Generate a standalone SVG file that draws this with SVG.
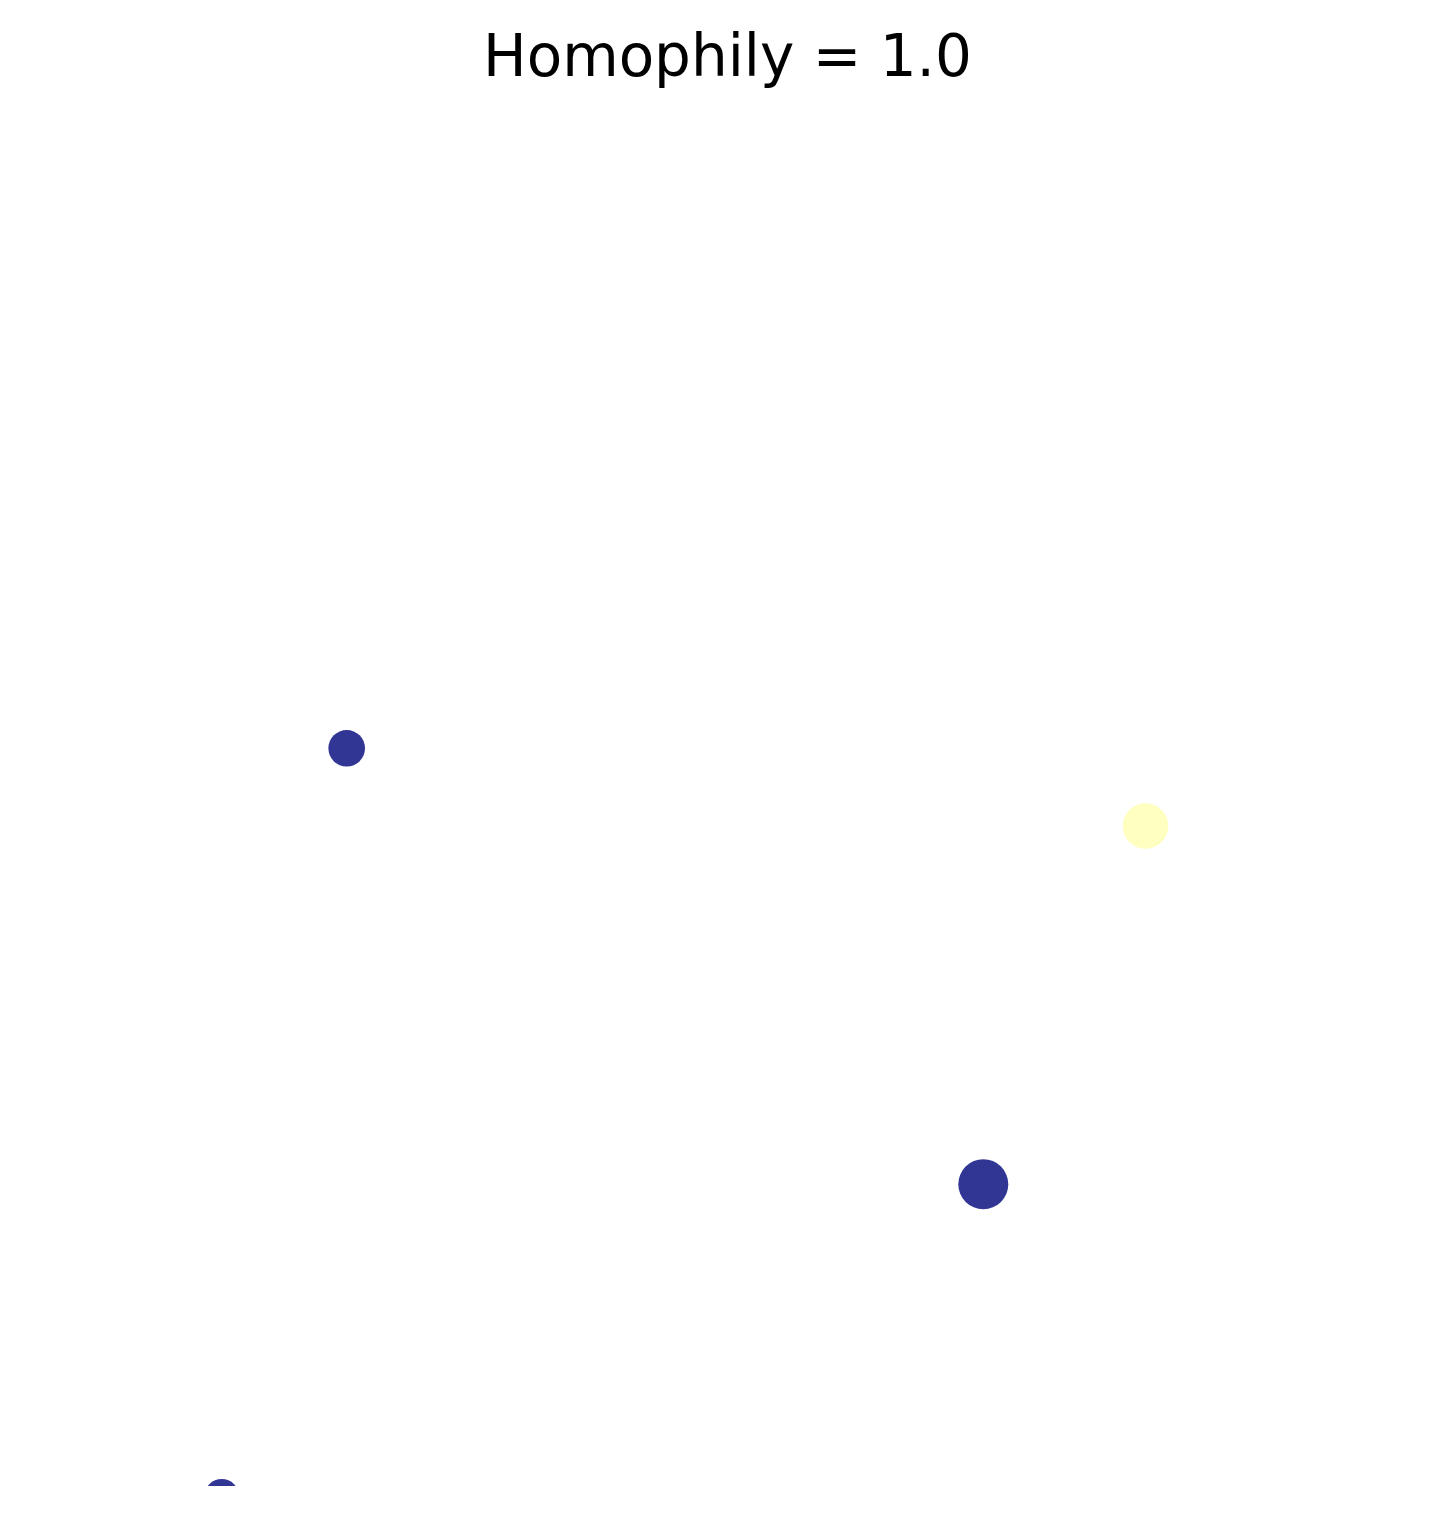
<svg xmlns="http://www.w3.org/2000/svg" width="1455" height="1516" viewBox="0 0 1455 1516">
<style>
.title{font-family:"DejaVu Sans",sans-serif;font-size:58px;fill:#000;text-anchor:middle}
.blue{fill:#313695}
.yellow{fill:#ffffbf}
</style>
<defs><clipPath id="ax"><rect x="0" y="100" width="1455" height="1386"/></clipPath></defs>
<rect width="1455" height="1516" fill="#fff"/>
<text class="title" x="727.5" y="76">Homophily = 1.0</text>
<g id="connectors"/>
<g clip-path="url(#ax)">
<g id="node1"><circle class="blue" cx="346.7" cy="748.3" r="18.3"/></g>
<g id="node2"><circle class="yellow" cx="1145.5" cy="826" r="22.8"/></g>
<g id="node3"><circle class="blue" cx="983.3" cy="1184.2" r="25"/></g>
<g id="node4"><circle class="blue" cx="221.7" cy="1496.5" r="17.5"/></g>
</g>
</svg>
